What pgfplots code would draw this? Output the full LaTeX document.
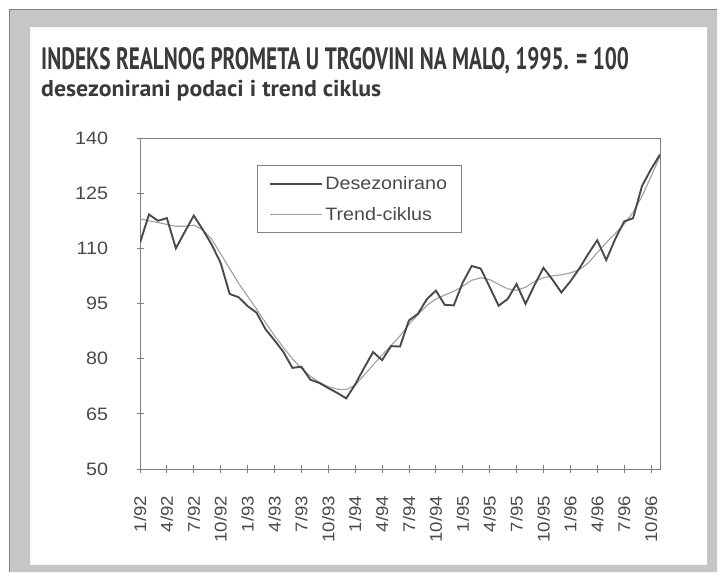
\documentclass[border=0pt]{standalone}
\usepackage{fontspec}
\setmainfont{Liberation Sans}[FakeStretch=1.1]
\newfontfamily\titlefont{PT Sans}[FakeStretch=0.69]
\newfontfamily\subfont{PT Sans}[FakeStretch=1.04]
\usepackage{pgfplots}
\pgfplotsset{compat=1.18}
\usepackage{pgfplotstable}
\definecolor{axgray}{HTML}{808080}
\definecolor{txtgray}{HTML}{4A4A4A}
\definecolor{darkline}{HTML}{4A4A4A}
\definecolor{lightline}{HTML}{A0A0A0}
\definecolor{band}{HTML}{C6C6C6}
\definecolor{titlec}{HTML}{3A3A3A}

\pgfplotstableread{
m v
0 111.5
1 119.2
2 117.5
3 118.2
4 110.0
5 114.5
6 118.9
7 115.1
8 111.0
9 106.0
10 97.6
11 96.7
12 94.3
13 92.5
14 88.0
15 85.0
16 81.8
17 77.5
18 77.8
19 74.3
20 73.4
21 72.0
22 70.7
23 69.2
24 73.0
25 77.5
26 81.8
27 79.6
28 83.4
29 83.3
30 90.4
31 92.2
32 96.2
33 98.5
34 94.6
35 94.5
36 100.7
37 105.2
38 104.5
39 99.5
40 94.4
41 96.2
42 100.3
43 94.9
44 100.0
45 104.7
46 101.5
47 98.0
48 101.0
49 104.5
50 108.5
51 112.2
52 106.8
53 112.5
54 117.3
55 118.2
56 127.0
57 131.5
58 135.5
}\desez

\pgfplotstableread{
m v
0 118.0
1 117.5
2 117.0
3 116.5
4 116.0
5 116.0
6 116.3
7 115.0
8 112.5
9 108.5
10 104.5
11 100.5
12 97.0
13 93.5
14 89.8
15 86.3
16 83.0
17 80.0
18 77.3
19 75.2
20 73.6
21 72.4
22 71.7
23 71.6
24 72.8
25 75.5
26 78.3
27 81.0
28 83.5
29 86.2
30 89.3
31 92.0
32 94.5
33 96.2
34 97.3
35 98.3
36 99.7
37 101.3
38 102.0
39 101.5
40 100.2
41 99.0
42 98.6
43 99.4
44 101.0
45 102.0
46 102.5
47 102.8
48 103.3
49 104.2
50 106.0
51 108.8
52 111.5
53 114.0
54 116.6
55 119.8
56 124.2
57 129.5
58 135.0
}\trend

\begin{document}
\begin{tikzpicture}
\useasboundingbox (0,0) rectangle (720bp,573bp);
\fill[white] (0,0) rectangle (720bp,573bp);
% frame band
\fill[band, even odd rule] (9bp,1bp) rectangle (717bp,563bp) (30bp,8bp) rectangle (707bp,546bp);
\draw[axgray, line width=1bp] (9bp,1bp) -- (9bp,563bp) -- (717bp,563bp);

\node[anchor=base west, inner sep=0pt, text=titlec] at (41bp,503bp)
  {\titlefont\bfseries\fontsize{31}{34}\selectfont INDEKS REALNOG PROMETA U TRGOVINI NA MALO, 1995. = 100};
\node[anchor=base west, inner sep=0pt, text=titlec] at (41bp,476bp)
  {\subfont\bfseries\fontsize{23}{26}\selectfont desezonirani podaci i trend ciklus};

\begin{axis}[
  scale only axis,
  anchor=south west,
  at={(140bp,104bp)},
  width=520bp, height=331bp,
  xmin=0, xmax=58, ymin=50, ymax=140,
  axis line style={axgray, line width=0.9bp},
  ytick={50,65,80,95,110,125,140},
  xtick={0,3,...,57},
  xticklabels={1/92,4/92,7/92,10/92,1/93,4/93,7/93,10/93,1/94,4/94,7/94,10/94,1/95,4/95,7/95,10/95,1/96,4/96,7/96,10/96},
  tick align=center,
  major tick length=7bp,
  tick style={axgray, line width=0.9bp},
  xtick pos=bottom, ytick pos=left,
  /pgf/number format/assume math mode=true,
  tick label style={text=txtgray},
  y tick label style={anchor=east, font=\fontsize{18}{20}\selectfont},
  x tick label style={rotate=90, anchor=east, font=\fontsize{17}{19}\selectfont},
  xticklabel shift=20bp,
  yticklabel shift=25bp,
  legend style={at={(0.225,0.918)}, anchor=north west, draw=axgray, line width=0.8bp,
    font=\fontsize{18}{21}\selectfont, text=txtgray, inner xsep=12bp, inner ysep=9bp,
    row sep=12bp, cells={anchor=west}},
  legend image code/.code={\draw[#1] (0bp,0bp) -- (52bp,0bp);},
]
\addplot[lightline, line width=1.1bp, forget plot] table[x=m,y=v] {\trend};
\addplot[darkline, line width=1.9bp] table[x=m,y=v] {\desez};
\addlegendentry{Desezonirano}
\addlegendimage{lightline, line width=1.1bp}
\addlegendentry{Trend-ciklus}
\end{axis}
\end{tikzpicture}
\end{document}
